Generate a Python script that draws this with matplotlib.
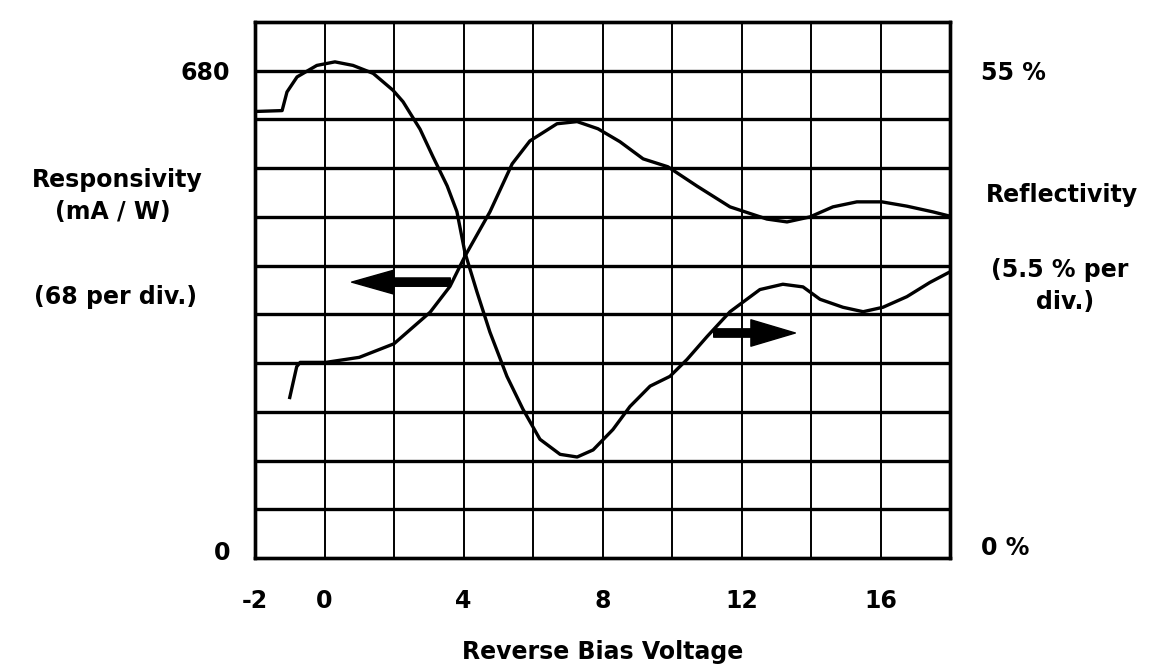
import numpy as np
import matplotlib.pyplot as plt

plt.rcParams['font.family'] = 'DejaVu Sans'
plt.rcParams['font.weight'] = 'bold'

# Responsivity (left axis, mA/W) vs reverse bias (V)
resp_v = [-1.0, -0.8, -0.7, 0.04, 1.0, 2.0, 3.04, 3.61, 4.04, 4.76, 5.4, 5.91, 6.69, 7.27,
          7.87, 8.5, 9.17, 9.88, 10.72, 11.67, 12.73, 13.31, 13.97, 14.63, 15.32, 16.04,
          16.76, 17.51, 18.0]
resp = [224, 267, 273, 273, 280, 299, 343, 379, 421, 483, 550, 582, 606, 609,
        599, 581, 557, 546, 519, 490, 473, 469, 476, 490, 497, 497,
        491, 483, 477]

# Reflectivity (right axis, %) vs reverse bias (V)
refl_v = [-2.0, -1.22, -1.08, -0.79, -0.22, 0.3, 0.82, 1.4, 1.97, 2.26, 2.75, 3.12, 3.53,
          3.81, 4.04, 4.39, 4.76, 5.25, 5.71, 6.2, 6.78, 7.27, 7.73, 8.3, 8.79, 9.37,
          9.94, 10.43, 11.01, 11.67, 12.53, 13.19, 13.77, 14.26, 14.92, 15.5, 16.07,
          16.76, 17.42, 18.0]
refl = [50.4, 50.5, 52.6, 54.3, 55.6, 56.0, 55.6, 54.7, 52.8, 51.5, 48.4, 45.3, 42.0,
        39.1, 34.5, 30.0, 25.5, 20.5, 16.8, 13.4, 11.7, 11.4, 12.2, 14.5, 17.1, 19.4,
        20.5, 22.4, 25.0, 27.8, 30.3, 30.9, 30.6, 29.2, 28.3, 27.8, 28.3,
        29.5, 31.1, 32.3]

x_ticks = [-2, 0, 4, 8, 12, 16]
resp_step = 68
refl_step = 5.5

fig = plt.figure(figsize=(11.59, 6.67), dpi=100)
ax = fig.add_axes([255 / 1159, 109 / 667, 695 / 1159, 536 / 667])
ax2 = ax.twinx()

ax.set_xlim(-2, 18)
ax.set_ylim(0, 11 * resp_step)
ax2.set_ylim(0, 11 * refl_step)

# grid drawn by hand so horizontals can be heavier than verticals
for v in np.arange(0, 18, 2):
    ax.axvline(v, color='black', lw=1.4, zorder=1)
for k in range(1, 11):
    ax.axhline(k * resp_step, color='black', lw=2.4, zorder=1)

ax.plot(resp_v, resp, color='black', lw=2.4, zorder=3)
ax2.plot(refl_v, refl, color='black', lw=2.4, zorder=3)

# direction arrows
ax.annotate('', xy=(0.78, 385), xytext=(3.62, 385),
            arrowprops=dict(arrowstyle='simple,head_length=30,head_width=17,tail_width=6',
                            mutation_scale=1, color='black', shrinkA=0, shrinkB=0))
ax.annotate('', xy=(13.55, 314), xytext=(11.2, 314),
            arrowprops=dict(arrowstyle='simple,head_length=32,head_width=19,tail_width=6',
                            mutation_scale=1, color='black', shrinkA=0, shrinkB=0))

for a in (ax, ax2):
    for s in a.spines.values():
        s.set_linewidth(2.4)
    a.tick_params(length=0)

ax.set_xticks(x_ticks)
ax.set_xticklabels([str(t) for t in x_ticks], fontsize=17, fontweight='bold')
ax.tick_params(axis='x', pad=22)
ax.set_yticks([10, 10 * resp_step])
ax.set_yticklabels(['0', '680'], fontsize=17, fontweight='bold')
ax.tick_params(axis='y', pad=18)
ax2.set_yticks([1.4, 10 * refl_step])
ax2.set_yticklabels(['0 %', '55 %'], fontsize=17, fontweight='bold')
ax2.tick_params(axis='y', pad=22)

ax.set_xlabel('Reverse Bias Voltage', fontsize=17, fontweight='bold', labelpad=20)

fig.text(117 / 1159, 1 - 180 / 667, 'Responsivity', fontsize=17, fontweight='bold',
         ha='center', va='center')
fig.text(113 / 1159, 1 - 212 / 667, '(mA / W)', fontsize=17, fontweight='bold',
         ha='center', va='center')
fig.text(115 / 1159, 1 - 297 / 667, '(68 per div.)', fontsize=17, fontweight='bold',
         ha='center', va='center')
fig.text(1062 / 1159, 1 - 195 / 667, 'Reflectivity', fontsize=17, fontweight='bold',
         ha='center', va='center')
fig.text(1060 / 1159, 1 - 270 / 667, '(5.5 % per', fontsize=17, fontweight='bold',
         ha='center', va='center')
fig.text(1065 / 1159, 1 - 302 / 667, 'div.)', fontsize=17, fontweight='bold',
         ha='center', va='center')

plt.savefig('out.png', dpi=100)
